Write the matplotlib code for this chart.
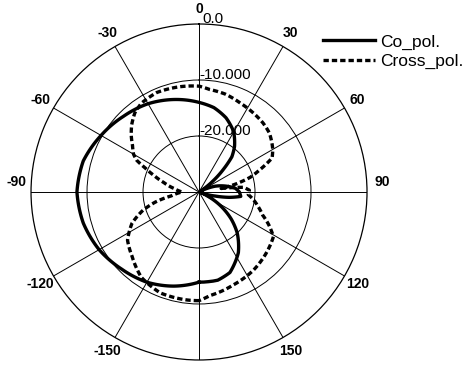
import numpy as np
import matplotlib
matplotlib.use('Agg')
import matplotlib.pyplot as plt

plt.rcParams['font.family'] = ['Liberation Sans', 'DejaVu Sans']

# Co-polar pattern (angle in deg, clockwise from top; level in dB)
co_ang = [-180, -165, -150, -135, -120, -105, -90, -75, -60, -45, -30, -15, 0,
          10, 20, 30, 38, 43, 47, 52, 57, 62, 70, 78, 84, 90, 96, 100, 104, 110,
          115, 120, 125, 130, 137, 147, 159, 168, 180]
co_db = [-13.9, -12.6, -11.4, -10.5, -9.4, -8.6, -8.2, -8.6, -9.8, -10.9, -11.8, -12.9, -14.0,
         -14.7, -15.9, -17.6, -19.7, -21.4, -24.0, -27.0, -29.5, -29.8, -27.0, -25.0, -23.5,
         -22.8, -22.5, -24.5, -27.0, -29.5, -28.5, -26.5, -24.5, -22.5, -20.0, -17.1, -14.6,
         -13.9, -13.9]

# Cross-polar pattern
cx_ang = [-180, -174, -159, -146, -134, -124, -115, -108, -103, -98, -90, -82, -75,
          -70, -66, -63, -60, -55, -50, -45, -39, -33, -23, -10, 0, 6, 15, 25, 35, 43,
          50, 56, 60, 65, 70, 74, 78, 81, 84, 88, 93, 98, 104, 110, 115, 121, 132, 145,
          160, 174, 180]
cx_db = [-10.6, -10.6, -10.7, -11.6, -13.4, -14.6, -16.8, -19.5, -22.0, -25.0, -27.0,
         -25.5, -23.5, -21.5, -19.5, -17.5, -16.5, -15.5, -14.2, -13.0, -11.8, -11.1,
         -10.7, -10.9, -11.1, -11.6, -11.9, -12.5, -12.9, -13.2, -13.6, -14.3, -14.8,
         -15.6, -18.5, -20.5, -23.5, -26.0, -22.0, -21.0, -21.2, -20.2, -19.1, -17.9,
         -16.3, -14.5, -13.8, -13.0, -12.3, -11.4, -10.6]

spoke_labels = ['0', '30', '60', '90', '120', '150', '180', '-150', '-120', '-90', '-60', '-30']
r_levels = [0, -10, -20]
r_texts = ['0.0', '-10.000', '-20.000']

fig = plt.figure(figsize=(4.72, 3.67), dpi=100)
ax = fig.add_axes([0.0657, 0.0191, 0.7119, 0.9155], projection='polar')
ax.set_theta_zero_location('N')
ax.set_theta_direction(-1)
ax.set_rlim(-30, 0)

# grid
ax.set_rticks([-20, -10])
ax.set_yticklabels([])
ax.set_xticks(np.deg2rad(np.arange(0, 360, 30)))
ax.set_xticklabels([])
ax.set_xticks(np.deg2rad(np.arange(0, 360, 5)), minor=True)
ax.tick_params(axis='x', which='both', direction='in', length=4, width=0.7, color='black')
ax.grid(True, color='black', linewidth=0.7)
ax.spines['polar'].set_linewidth(0.9)

# curves (let the polar transform follow the arcs between points)
l1, = ax.plot(np.deg2rad(co_ang), co_db, color='black', lw=2.4, label='Co_pol.')
l2, = ax.plot(np.deg2rad(cx_ang), cx_db, color='black', lw=2.4, linestyle=(0, (1.6, 0.9)),
              label='Cross_pol.')
for ln in (l1, l2):
    ln.get_path()._interpolation_steps = 24

# angle labels (the 90 / -90 ones sit a bit above the spoke)
for i, lab in enumerate(spoke_labels):
    deg = i * 30
    if deg == 90:
        deg = 87
    elif deg == 270:
        deg = 273
    ax.text(np.deg2rad(deg), 2.7, lab, ha='center', va='center', fontsize=10,
            fontweight='bold', clip_on=False)

# radial level labels
for r, t in zip(r_levels, r_texts):
    ax.text(0.02 if r == 0 else 0.0, r + 0.15, t, ha='left', va='baseline', fontsize=11,
            clip_on=False)

fig.legend(loc='upper left', bbox_to_anchor=(0.665, 0.93), frameon=False, fontsize=12.5,
           handlelength=3.0, handletextpad=0.3, labelspacing=0.25, borderpad=0)

fig.savefig('out.png', dpi=100)
